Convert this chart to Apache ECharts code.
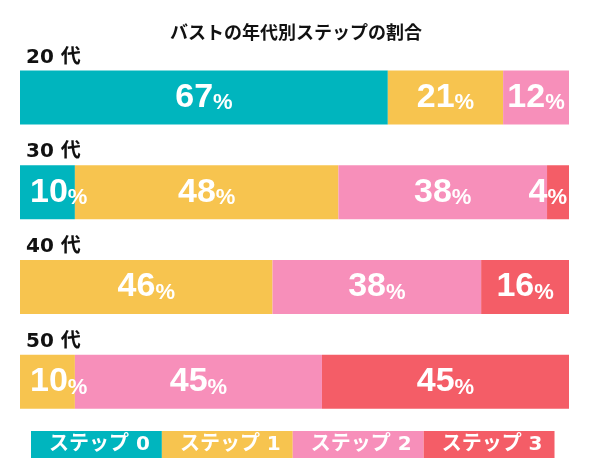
<!DOCTYPE html>
<html>
<head>
<meta charset="utf-8">
<script src="https://cdn.jsdelivr.net/npm/echarts@6/dist/echarts.min.js"></script>
<style>html,body{margin:0;padding:0;background:#fff}#c{width:592px;height:472px}</style>
</head>
<body>
<div id="c"></div>
<script>
const titleText = 'バストの年代別ステップの割合';
const ageGroups = ['20 代', '30 代', '40 代', '50 代'];
const stepNames = ['ステップ 0', 'ステップ 1', 'ステップ 2', 'ステップ 3'];
const step0 = [67, 10, 0, 0];
const step1 = [21, 48, 46, 10];
const step2 = [12, 38, 38, 45];
const step3 = [0, 4, 16, 45];
const colors = ['#00B5BE', '#F7C44F', '#F78FBA', '#F45D67'];

const allSteps = [step0, step1, step2, step3];
const chart = echarts.init(document.getElementById('c'));

function buildData(si) {
  return allSteps[si].map((v, ci) => {
    if (v > 10 || v === 0) return v;
    // small segment: anchor its label to the bar end it touches
    const before = allSteps.slice(0, si).reduce((s, a) => s + a[ci], 0);
    const after = allSteps.slice(si + 1).reduce((s, a) => s + a[ci], 0);
    if (before === 0) return { value: v, label: { position: 'insideLeft', distance: 10 } };
    if (after === 0) return { value: v, label: { position: 'insideRight', distance: 2 } };
    return v;
  });
}

const series = stepNames.map((name, si) => ({
  name: name,
  type: 'bar',
  stack: 'total',
  barWidth: 54,
  itemStyle: { color: colors[si] },
  label: {
    show: true,
    position: 'inside',
    offset: [0, -1],
    formatter: p => p.value ? '{n|' + p.value + '}{p|%}' : '',
    rich: {
      n: { fontSize: 34, fontWeight: 'bold', color: '#fff', fontFamily: 'Liberation Sans', lineHeight: 36, verticalAlign: 'bottom' },
      p: { fontSize: 22, fontWeight: 'bold', color: '#fff', fontFamily: 'Liberation Sans', lineHeight: 22, verticalAlign: 'bottom' }
    }
  },
  data: buildData(si)
}));

chart.setOption({
  animation: false,
  title: {
    text: titleText,
    left: 165,
    top: 18,
    textStyle: { fontSize: 18, fontWeight: 'bold', color: '#111', fontFamily: 'Noto Sans CJK JP' }
  },
  legend: {
    bottom: 14,
    left: 26,
    padding: 0,
    itemWidth: 0,
    itemHeight: 0,
    itemGap: -5,
    selectedMode: false,
    data: stepNames.map((n, i) => ({
      name: n,
      icon: 'rect',
      textStyle: {
        color: '#fff',
        backgroundColor: colors[i],
        padding: [3, 12, 3, 18],
        lineHeight: 21,
        fontSize: 20,
        fontWeight: 'bold',
        fontFamily: 'DejaVu Sans, Noto Sans CJK JP'
      }
    }))
  },
  grid: { left: 20, right: 23, top: 50, bottom: 43, containLabel: false },
  xAxis: { type: 'value', min: 0, max: 100, show: false },
  yAxis: {
    type: 'category',
    inverse: true,
    data: ageGroups,
    axisLine: { show: false },
    axisTick: { show: false },
    axisLabel: {
      inside: true,
      margin: 6,
      align: 'left',
      verticalAlign: 'bottom',
      padding: [0, 0, 30, 0],
      fontSize: 20,
      fontWeight: 'bold',
      color: '#111',
      fontFamily: 'DejaVu Sans, Noto Sans CJK JP'
    },
    z: 10
  },
  series: series
});
</script>
</body>
</html>
